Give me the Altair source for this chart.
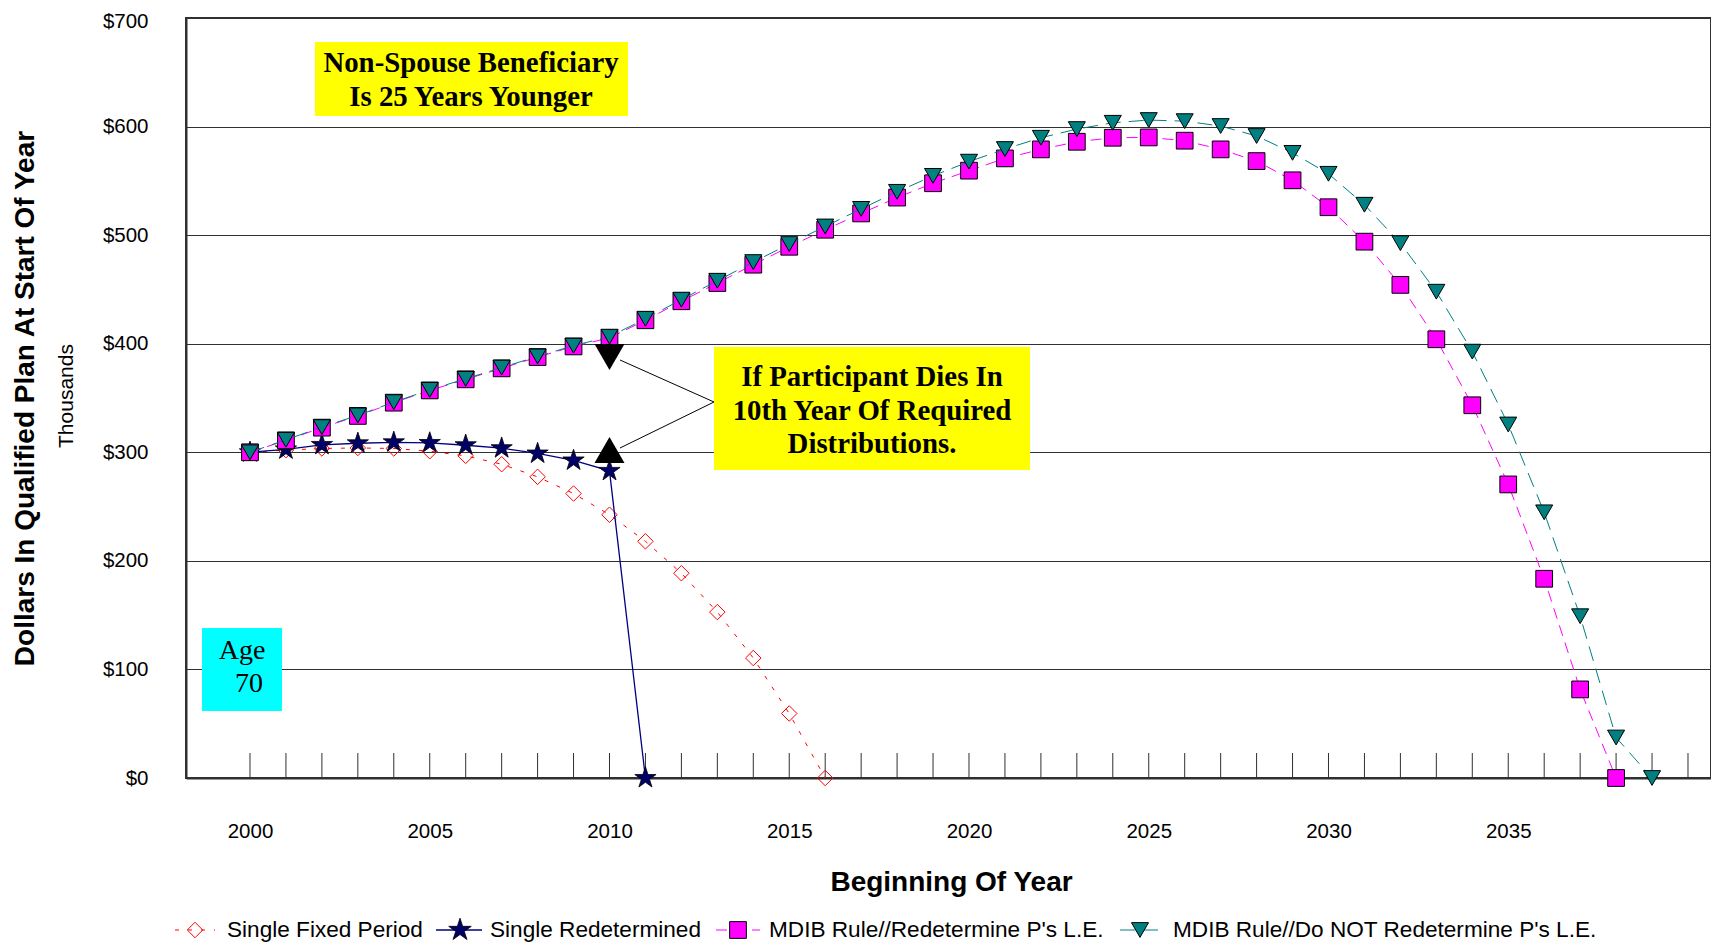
import altair as alt
import pandas as pd

# ---------------- data (thousands of dollars) ----------------
series_names = [
    "Single Fixed Period",
    "Single Redetermined",
    "MDIB Rule//Redetermine P's L.E.",
    "MDIB Rule//Do NOT Redetermine P's L.E.",
]

years_fixed = list(range(2000, 2017))
single_fixed = [300, 302, 303.5, 304, 303.5, 301, 296.7, 289, 277.4, 262,
                242.5, 218, 188.6, 152.8, 110.5, 59.4, 0]

years_redet = list(range(2000, 2012))
single_redet = [300, 302.7, 306.8, 308.3, 309.2, 308.6, 306.5, 303.8, 298.9, 292.5,
                282.9, 0]

years_mdib_redet = list(range(2000, 2039))
mdib_redet = [300, 311, 322.7, 333.5, 345.7, 357, 367.2, 377.3, 387.7, 397.5,
              405.4, 421.6, 439.1, 455.9, 472.8, 489.3, 505, 520, 534.6, 547.8,
              559.4, 570.7, 579, 586, 589.7, 590, 587, 579, 568.2, 550.5,
              525.7, 494, 454.2, 404.1, 343.3, 270.4, 183.5, 81.6, 0]

years_mdib_not = list(range(2000, 2040))
mdib_not = [300, 311.5, 323.2, 334, 346.2, 357.5, 367.7, 378, 388.3, 398.2,
            406.5, 423, 440.6, 458, 475.2, 491.8, 508, 524.2, 539.9, 554.6,
            567.7, 579.3, 589.7, 597.7, 603.5, 606, 605, 600.5, 591.3, 575.8,
            556.5, 528, 492.6, 447.9, 392.7, 325.6, 244.7, 149, 37.3, 0]

tick_years = list(range(2000, 2041))
label_years = list(range(2000, 2036, 5))
y_ticks = list(range(0, 701, 100))

# annotation anchors (year, value in thousands)
arrow_year = [2010]
arrow_down_value = [387.7]
arrow_up_value = [302.2]

box1_text = ["Non-Spouse Beneficiary\nIs 25 Years Younger"]
box2_text = ["If Participant Dies In\n10th Year Of Required\nDistributions."]
age_text = ["Age", "70"]
units_text = ["Thousands"]

SANS = "Liberation Sans, Arial, Helvetica, sans-serif"
SERIF = "Liberation Serif, Times New Roman, serif"
STAR = ("M0,-1L0.2245,-0.309L0.951,-0.309L0.363,0.118L0.588,0.809L0,0.382"
        "L-0.588,0.809L-0.363,0.118L-0.951,-0.309L-0.2245,-0.309Z")

W, H = 1525, 760


def frame(years, vals):
    return pd.DataFrame({"year": years, "value": vals})


df_fixed = frame(years_fixed, single_fixed)
df_redet = frame(years_redet, single_redet)
df_mr = frame(years_mdib_redet, mdib_redet)
df_mn = frame(years_mdib_not, mdib_not)

x_scale = alt.Scale(domain=[1998.22, 2040.64], nice=False, zero=False)
y_scale = alt.Scale(domain=[0, 700], nice=False, zero=True)

x_axis = alt.Axis(
    orient="bottom",
    values=label_years, format="d", ticks=False, grid=False,
    labelFont=SANS, labelFontSize=20.5, labelColor="black", labelPadding=43,
    labelFlush=False, labelOverlap=False,
    domainColor="#303030", domainWidth=2,
    titleFont=SANS, titleFontSize=28, titleFontWeight="bold", titleColor="black",
    titleX=765, titleY=104, titleAlign="center", titleBaseline="middle",
)
y_axis = alt.Axis(
    orient="left",
    values=y_ticks, labelExpr="'$' + datum.value", ticks=False,
    grid=True, gridColor="#303030", gridWidth=1,
    labelFont=SANS, labelFontSize=20.5, labelColor="black", labelPadding=38,
    labelOffset=alt.condition("datum.value == 700", alt.value(3), alt.value(0)),
    domainColor="#303030", domainWidth=2,
    titleFont=SANS, titleFontSize=28, titleFontWeight="bold", titleColor="black",
    titleX=-161, titleY=380, titleAngle=270, titleAlign="center", titleBaseline="middle",
)

x_enc = alt.X("year:Q", scale=x_scale, axis=x_axis, title="Beginning Of Year")
y_enc = alt.Y("value:Q", scale=y_scale, axis=y_axis,
              title="Dollars In Qualified Plan At Start Of Year")

layers = []

# inner tick marks on the category axis
layers.append(
    alt.Chart(pd.DataFrame({"year": tick_years})).mark_rule(color="#303030", strokeWidth=1)
    .encode(x=x_enc, y=alt.value(H - 25), y2=alt.value(H))
)

# series 1: Single Fixed Period
layers.append(alt.Chart(df_fixed).mark_line(color="#FF0000", strokeWidth=1, strokeDash=[4, 9])
              .encode(x=x_enc, y=y_enc))
layers.append(alt.Chart(df_fixed).mark_point(shape="diamond", size=240, filled=False,
                                             color="#FF0000", strokeWidth=1, opacity=1)
              .encode(x=x_enc, y=y_enc))
# series 2: Single Redetermined
layers.append(alt.Chart(df_redet).mark_line(color="#000080", strokeWidth=1.3)
              .encode(x=x_enc, y=y_enc))
layers.append(alt.Chart(df_redet).mark_point(shape=STAR, size=500, filled=True, fill="#000066",
                                             stroke="black", strokeWidth=0.8, opacity=1)
              .encode(x=x_enc, y=y_enc))
# series 3: MDIB redetermine
layers.append(alt.Chart(df_mr).mark_line(color="#FF00FF", strokeWidth=1, strokeDash=[11, 7])
              .encode(x=x_enc, y=y_enc))
layers.append(alt.Chart(df_mr).mark_point(shape="square", size=280, filled=True, fill="#FF00FF",
                                          stroke="black", strokeWidth=1, opacity=1)
              .encode(x=x_enc, y=y_enc))
# series 4: MDIB do NOT redetermine
layers.append(alt.Chart(df_mn).mark_line(color="#008080", strokeWidth=1, strokeDash=[15, 8])
              .encode(x=x_enc, y=y_enc))
layers.append(alt.Chart(df_mn).mark_point(shape="triangle-down", size=290, filled=True,
                                          fill="#008080", stroke="black", strokeWidth=1, opacity=1)
              .encode(x=x_enc, y=y_enc))

# ---------------- annotations ----------------
one = pd.DataFrame({"k": [0]})

# yellow box, top left
layers.append(alt.Chart(one).mark_rect(color="#FFFF00")
              .encode(x=alt.value(129), x2=alt.value(442), y=alt.value(24), y2=alt.value(98)))
layers.append(alt.Chart(pd.DataFrame({"t": box1_text}))
              .mark_text(font=SERIF, fontSize=28.8, fontWeight="bold", color="black",
                         align="center", baseline="middle", lineBreak="\n", lineHeight=34)
              .encode(x=alt.value(285), y=alt.value(45), text="t:N"))

# connector lines and arrowheads
layers.append(alt.Chart(one).mark_rule(color="black", strokeWidth=1)
              .encode(x=alt.value(528), x2=alt.value(434), y=alt.value(384), y2=alt.value(342)))
layers.append(alt.Chart(one).mark_rule(color="black", strokeWidth=1)
              .encode(x=alt.value(528), x2=alt.value(434), y=alt.value(384), y2=alt.value(430)))
layers.append(alt.Chart(frame(arrow_year, arrow_down_value))
              .mark_point(shape="triangle-down", size=900, filled=True, color="black", opacity=1)
              .encode(x=x_enc, y=y_enc))
layers.append(alt.Chart(frame(arrow_year, arrow_up_value))
              .mark_point(shape="triangle-up", size=900, filled=True, color="black", opacity=1)
              .encode(x=x_enc, y=y_enc))

# yellow box, middle
layers.append(alt.Chart(one).mark_rect(color="#FFFF00")
              .encode(x=alt.value(528), x2=alt.value(844), y=alt.value(329), y2=alt.value(452)))
layers.append(alt.Chart(pd.DataFrame({"t": box2_text}))
              .mark_text(font=SERIF, fontSize=28.8, fontWeight="bold", color="black",
                         align="center", baseline="middle", lineBreak="\n", lineHeight=33.5)
              .encode(x=alt.value(686), y=alt.value(359), text="t:N"))

# cyan age box
layers.append(alt.Chart(one).mark_rect(color="#00FFFF")
              .encode(x=alt.value(16), x2=alt.value(96), y=alt.value(610), y2=alt.value(693)))
layers.append(alt.Chart(pd.DataFrame({"t": [age_text[0]]}))
              .mark_text(font=SERIF, fontSize=28, color="black", align="center", baseline="middle")
              .encode(x=alt.value(56), y=alt.value(633), text="t:N"))
layers.append(alt.Chart(pd.DataFrame({"t": [age_text[1]]}))
              .mark_text(font=SERIF, fontSize=28, color="black", align="center", baseline="middle")
              .encode(x=alt.value(63), y=alt.value(666), text="t:N"))

# "Thousands" unit label
layers.append(alt.Chart(pd.DataFrame({"t": units_text}))
              .mark_text(font=SANS, fontSize=21, color="black", align="center",
                         baseline="middle", angle=270)
              .encode(x=alt.value(-119), y=alt.value(378), text="t:N"))

# ---------------- legend (bottom) ----------------
LY = 912
leg_specs = [
    (-11, 29, 9, 41, dict(color="#FF0000", strokeWidth=1, strokeDash=[4, 9]),
     dict(shape="diamond", size=240, filled=False, color="#FF0000", strokeWidth=1, opacity=1)),
    (250, 296, 274, 304, dict(color="#000080", strokeWidth=1.3),
     dict(shape=STAR, size=560, filled=True, fill="#000066", stroke="black",
          strokeWidth=0.8, opacity=1)),
    (530, 574, 552, 583, dict(color="#FF00FF", strokeWidth=1, strokeDash=[11, 7]),
     dict(shape="square", size=280, filled=True, fill="#FF00FF", stroke="black",
          strokeWidth=1, opacity=1)),
    (934, 976, 954, 987, dict(color="#008080", strokeWidth=1, strokeDash=[15, 8]),
     dict(shape="triangle-down", size=290, filled=True, fill="#008080", stroke="black",
          strokeWidth=1, opacity=1)),
]
for name, (lx1, lx2, mx, tx, lprops, pprops) in zip(series_names, leg_specs):
    d = pd.DataFrame({"name": [name]})
    layers.append(alt.Chart(d).mark_rule(**lprops)
                  .encode(x=alt.value(lx1), x2=alt.value(lx2), y=alt.value(LY)))
    layers.append(alt.Chart(d).mark_point(**pprops)
                  .encode(x=alt.value(mx), y=alt.value(LY)))
    layers.append(alt.Chart(d).mark_text(font=SANS, fontSize=22.6, color="black",
                                         align="left", baseline="middle")
                  .encode(x=alt.value(tx), y=alt.value(LY), text="name:N"))

chart = (
    alt.layer(*layers)
    .properties(
        width=W, height=H,
        autosize=alt.AutoSizeParams(type="none"),
        padding={"left": 178, "top": 10, "right": 0, "bottom": 164},
        background="white",
    )
    .configure_view(stroke="#303030", strokeWidth=2)
)

chart.save("out.html", embed_options={"renderer": "svg", "actions": False})
